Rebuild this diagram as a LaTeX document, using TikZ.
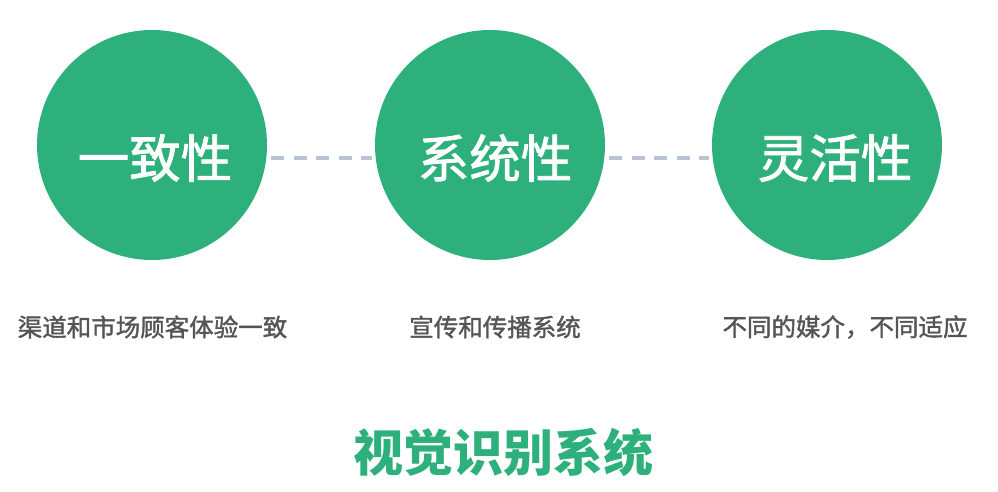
\documentclass[tikz,border=0pt]{standalone}
\usepackage{fontspec}
\newfontfamily\cjk{Noto Sans CJK SC}
\newfontfamily\cjkmed{Noto Sans CJK SC}[FakeBold=1.5]
\usepackage{tikz}
\usetikzlibrary{positioning}
\definecolor{brandgreen}{HTML}{2DB07B}
\definecolor{dashgray}{HTML}{BAC3D3}
\definecolor{captiongray}{HTML}{555555}

\begin{document}
\begin{tikzpicture}[
    x=1pt, y=1pt,
    ring/.style={circle, fill=brandgreen, minimum size=230pt, inner sep=0pt},
    ringtext/.style={text=white, font=\cjkmed\fontsize{51.5}{52}\selectfont, inner sep=0pt},
    caption/.style={text=captiongray, font=\cjkmed\fontsize{24.5}{25}\selectfont, inner sep=0pt},
    link/.style={draw=dashgray, line width=4pt, dash pattern=on 13pt off 9.5pt}
]
\useasboundingbox (0,0) rectangle (998,491);

\node[ring] (yizhi) at (152,346) {};
\node[ring] (xitong) at (490,346) {};
\node[ring] (linghuo) at (827,346) {};

\node[ringtext] (yizhiT) at (155,333) {一致性};
\node[ringtext] (xitongT) at (495,333) {系统性};
\node[ringtext] (linghuoT) at (835,333) {灵活性};

\draw[link] ([xshift=4pt]yizhi.east |- yizhiT) -- ([xshift=-3pt]xitong.west |- xitongT);
\draw[link] ([xshift=4pt]xitong.east |- xitongT) -- ([xshift=-3pt]linghuo.west |- linghuoT);

\node[caption] (capA) at (152.5,164) {渠道和市场顾客体验一致};
\node[caption] (capB) at (495,164) {宣传和传播系统};
\node[caption] (capC) at (845,164) {不同的媒介，不同适应};

\node[text=brandgreen, font=\cjk\bfseries\fontsize{50}{50}\selectfont, inner sep=0pt] (title) at (503,39) {视觉识别系统};
\end{tikzpicture}
\end{document}
